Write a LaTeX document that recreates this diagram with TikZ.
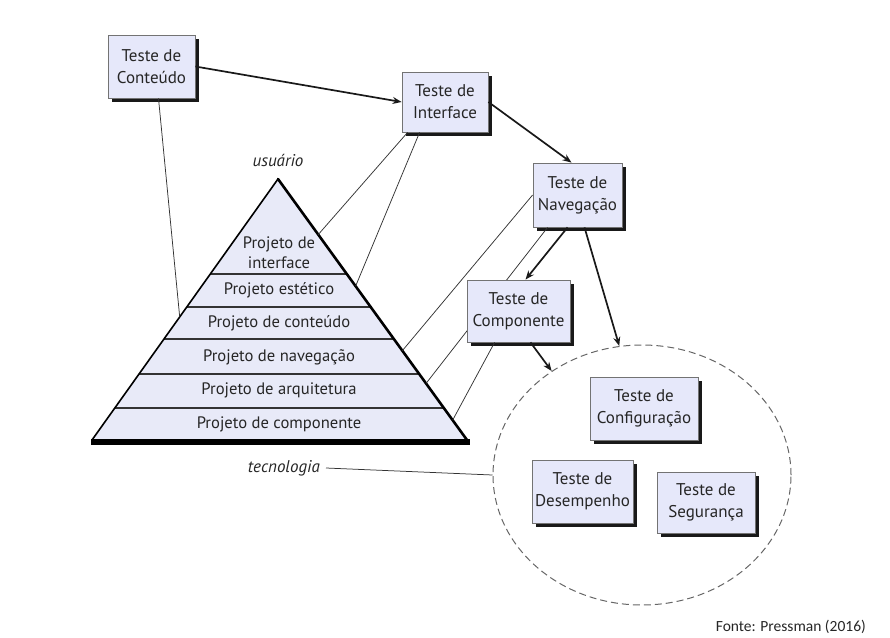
\documentclass[tikz,border=0pt]{standalone}
\usepackage{fontspec}
\setmainfont{PT Sans}
\newfontfamily\fontefont{Carlito}
\usetikzlibrary{arrows.meta,shapes.geometric,shadows,calc}
\definecolor{boxfill}{HTML}{E6E8FA}
\definecolor{pyrfill}{HTML}{E8EAF8}
\definecolor{txt}{HTML}{262626}
\begin{document}
\begin{tikzpicture}[x=1pt,y=-1pt,
  testbox/.style={draw=black!55, line width=0.8pt, fill=boxfill, align=center, text=txt,
    font=\fontsize{17}{22}\selectfont, inner sep=0pt,
    drop shadow={shadow xshift=4pt, shadow yshift=-4pt, fill=black!90, opacity=1}},
  layertext/.style={text=txt, font=\fontsize{16.6}{20}\selectfont, align=center, inner sep=0pt},
  thinline/.style={draw=black!80, line width=0.75pt},
  flow/.style={draw=black!90, line width=1.7pt, -{Stealth[length=9pt,width=7pt]}},
  italiclabel/.style={text=txt, font=\fontsize{17}{20}\selectfont\itshape, inner sep=2pt}
]
\useasboundingbox (0,0) rectangle (890,637);

% dashed ellipse
\node[draw=black!60, dashed, dash pattern=on 7pt off 4pt, line width=1pt, ellipse,
  minimum width=298pt, minimum height=260pt, inner sep=0pt] (ell) at (642,475) {};

% pyramid
\coordinate (apex) at (278,179);
\coordinate (bl) at (92,440);
\coordinate (br) at (467,440);
\fill[pyrfill] (apex) -- (bl) -- (br) -- cycle;
\foreach \t in {0.3639,0.4904,0.6130,0.7471,0.8774}
  \draw[black!80, line width=1.4pt] ($(apex)!\t!(bl)$) -- ($(apex)!\t!(br)$);
\draw[black, line width=1.6pt] (apex) -- (bl);
\draw[black, line width=2.6pt, line cap=round] (apex) -- (br);
\fill[black] (91,439) rectangle (470,445);

\node[layertext] (lint) at (279,253) {Projeto de\\interface};
\node[layertext] (lest) at (279,290) {Projeto estético};
\node[layertext] (lcon) at (279,323) {Projeto de conteúdo};
\node[layertext] (lnav) at (279,357) {Projeto de navegação};
\node[layertext] (larq) at (279,390) {Projeto de arquitetura};
\node[layertext] (lcom) at (279,424) {Projeto de componente};

\node[italiclabel] (usu) at (278,160) {usuário};
\node[italiclabel, inner xsep=6pt, anchor=east] (tec) at (326,468) {tecnologia};

% pyramid edge points
\coordinate (eint) at ($(apex)!0.2129!(br)$);
\coordinate (eest) at ($(apex)!0.4106!(br)$);
\coordinate (enav) at ($(apex)!0.6578!(br)$);
\coordinate (earq) at ($(apex)!0.7833!(br)$);
\coordinate (ecom) at ($(apex)!0.9240!(br)$);
\coordinate (econ) at ($(apex)!0.5285!(bl)$);

\node[testbox, minimum width=87pt, minimum height=63pt] (cont) at (151.5,66.5) {Teste de\\Conteúdo};
\node[testbox, minimum width=86pt, minimum height=60pt] (int) at (445,102) {Teste de\\Interface};
\node[testbox, minimum width=89pt, minimum height=64pt] (nav) at (577.5,195) {Teste de\\Navegação};

% thin lines
\draw[thinline] ([xshift=7pt]cont.south) -- (econ);
\draw[thinline] ([xshift=6pt]int.south west) -- (eint);
\draw[thinline] ([xshift=18pt]int.south west) -- (eest);
\draw[thinline] (nav.west) -- (enav);
\draw[thinline] ([xshift=15pt]nav.south west) -- (earq);
\draw[thinline] (tec.east) -- (ell.west);

\node[testbox, minimum width=103pt, minimum height=62pt] (comp) at (518.5,311) {Teste de\\Componente};
\draw[thinline] ([xshift=28pt]comp.south west) -- (ecom);

\node[testbox, minimum width=108pt, minimum height=63pt] (conf) at (644,408.5) {Teste de\\Configuração};
\node[testbox, minimum width=101pt, minimum height=63pt] (des) at (582.5,491.5) {Teste de\\Desempenho};
\node[testbox, minimum width=98pt, minimum height=61pt] (seg) at (706,502.5) {Teste de\\Segurança};

% flow arrows
\draw[flow] (cont.east) -- (int.west);
\draw[flow] (int.east) -- ([xshift=-6pt]nav.north);
\draw[flow] ([xshift=-10pt]nav.south) -- ([xshift=7pt]comp.north);
\draw[flow] ([xshift=7pt]nav.south) -- (ell.100);
\draw[flow] ([xshift=12pt]comp.south) -- (ell.131);

\node[text=black!85, font=\fontefont\fontsize{15.5}{18}\selectfont, anchor=east, inner sep=0pt] (fonte) at (866,627) {Fonte: Pressman (2016)};
\end{tikzpicture}
\end{document}
